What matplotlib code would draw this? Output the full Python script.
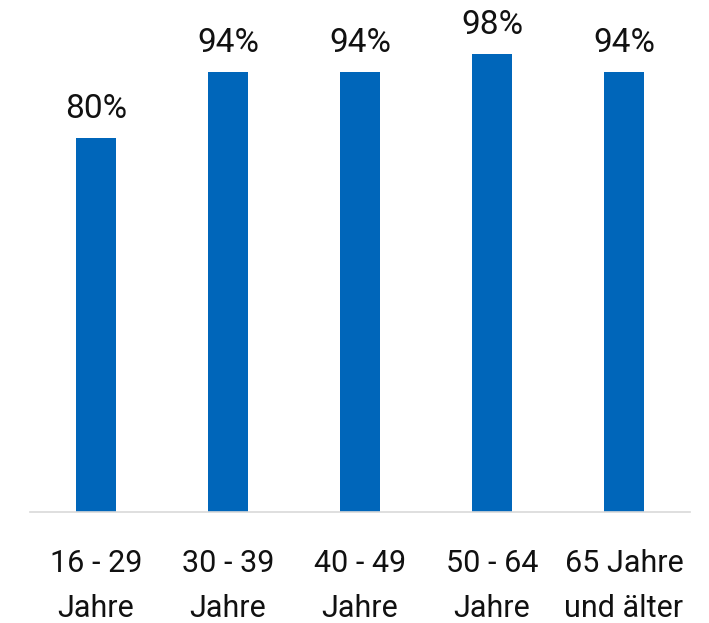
import matplotlib
matplotlib.use("Agg")
import matplotlib.pyplot as plt

# Werte
kategorien = ["16 - 29\nJahre", "30 - 39\nJahre", "40 - 49\nJahre", "50 - 64\nJahre", "65 Jahre\nund älter"]
werte = [80, 94, 94, 98, 94]
beschriftung = ["80%", "94%", "94%", "98%", "94%"]

plt.rcParams['font.family'] = ['Roboto', 'DejaVu Sans']

fig = plt.figure(figsize=(7.09, 6.23), dpi=100)
ax = fig.add_axes([30 / 709, 111 / 623, 660 / 709, 512 / 623])

x = range(len(kategorien))
bars = ax.bar(x, werte, width=0.31, color="#0066BA")

# Prozentwerte über den Balken
for b, txt in zip(bars, beschriftung):
    ax.annotate(txt, (b.get_x() + b.get_width() / 2, b.get_height()),
                xytext=(0, 14.5), textcoords="offset points",
                ha="center", va="baseline", fontsize=24, color="#111111")

ax.set_xlim(-0.5, 4.5)
ax.set_ylim(0, 109.5)
ax.set_xticks(list(x))
ax.set_xticklabels(kategorien, fontsize=22, color="#111111", linespacing=1.72)
ax.tick_params(axis="x", length=0, pad=26.5)
ax.set_yticks([])

for s in ["top", "right", "left"]:
    ax.spines[s].set_visible(False)
ax.spines["bottom"].set_color("#D9D9D9")
ax.spines["bottom"].set_linewidth(1.2)

fig.savefig("out.png", dpi=100)
